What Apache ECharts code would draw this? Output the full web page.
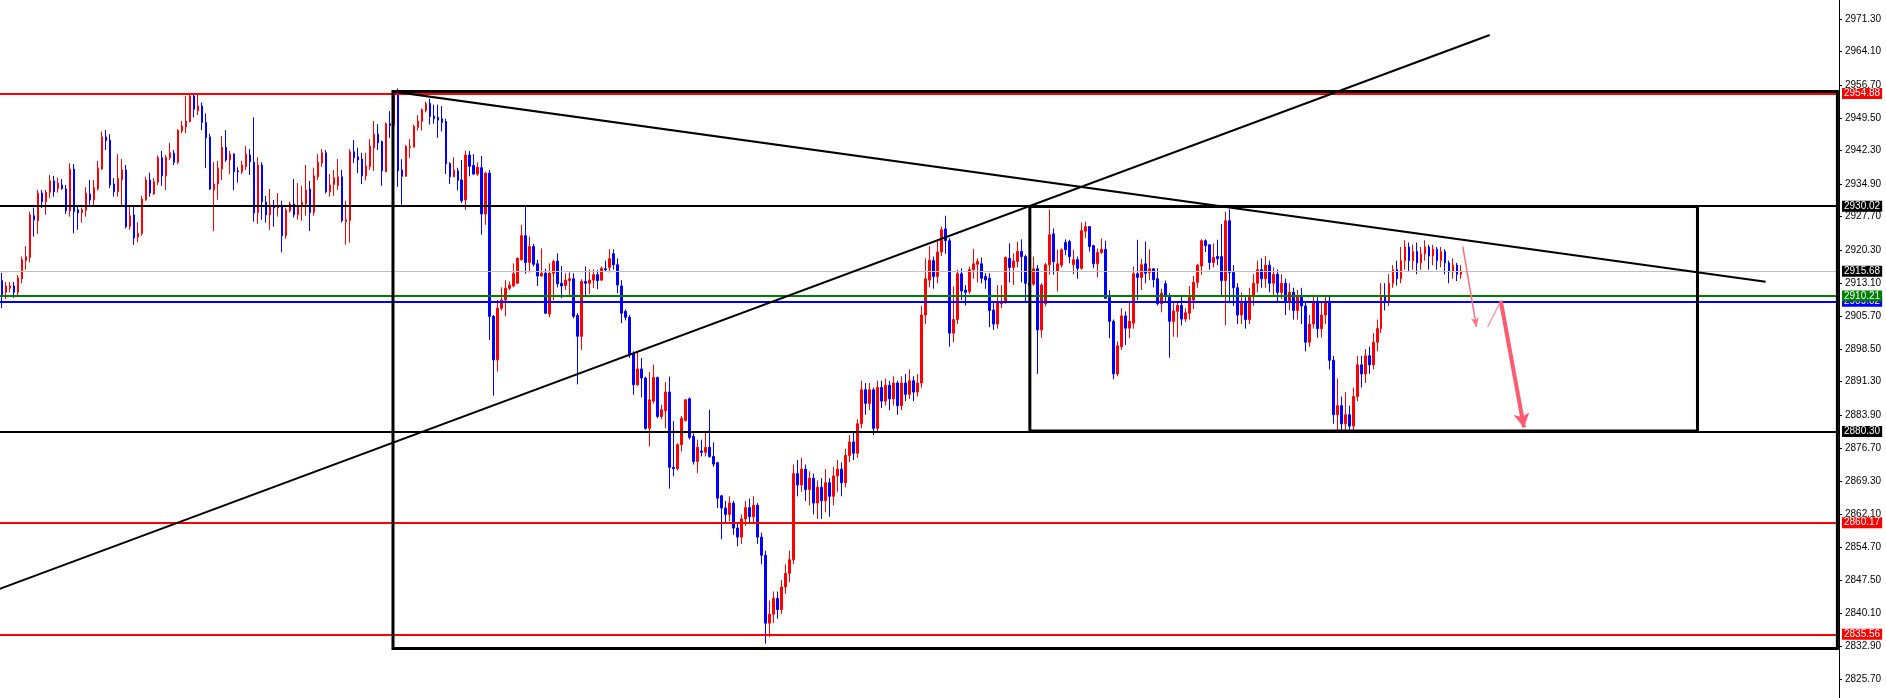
<!DOCTYPE html>
<html><head><meta charset="utf-8">
<style>html,body{margin:0;padding:0;background:#fff}#c{width:1886px;height:698px}</style>
<script src="https://cdn.jsdelivr.net/npm/echarts@6.0.0/dist/echarts.min.js"></script>
</head><body><div id="c"></div>
<script>
// ---------- data ----------
const opens = [
2913.6,2911.0,2911.9,2912.4,2911.0,2914.0,2918.0,2918.7,2927.9,2926.8,
2932.9,2931.0,2933.1,2935.6,2933.9,2934.7,2933.8,2929.0,2938.2,2929.2,
2928.6,2929.1,2932.7,2931.4,2933.8,2938.2,2945.3,2944.6,2934.9,2933.2,
2935.8,2938.0,2925.5,2928.1,2923.2,2924.0,2931.4,2935.8,2932.7,2935.3,
2940.7,2936.7,2940.7,2941.7,2939.7,2946.6,2947.5,2948.7,2954.3,2951.1,
2952.1,2948.5,2945.3,2933.6,2934.9,2938.2,2943.0,2940.2,2941.5,2937.8,
2937.6,2938.7,2941.3,2939.7,2928.6,2939.1,2930.9,2928.1,2930.1,2929.6,
2930.1,2923.5,2929.0,2930.5,2928.1,2929.9,2930.5,2933.8,2928.6,2936.5,
2939.5,2941.8,2933.2,2934.8,2934.6,2936.5,2926.6,2926.8,2942.0,2940.9,
2940.4,2936.7,2938.7,2942.9,2945.9,2944.3,2937.6,2948.2,2947.8,2954.9,
2938.0,2936.6,2943.0,2943.0,2947.4,2948.7,2951.1,2952.7,2949.9,2949.6,
2949.3,2948.7,2939.4,2936.5,2937.8,2935.8,2931.4,2941.3,2939.0,2937.1,
2938.5,2928.3,2937.3,2905.7,2896.1,2907.5,2909.3,2911.9,2912.4,2913.0,
2918.2,2923.5,2917.6,2921.1,2917.3,2914.6,2915.2,2906.2,2915.2,2917.9,
2913.0,2912.5,2913.6,2914.0,2905.9,2901.3,2913.4,2913.0,2913.7,2914.9,
2913.7,2916.2,2916.5,2919.5,2917.1,2912.4,2906.8,2905.5,2897.4,2890.6,
2894.1,2892.1,2881.0,2887.0,2892.2,2883.6,2884.9,2889.0,2872.4,2872.1,
2877.4,2882.7,2887.5,2879.2,2873.7,2876.0,2875.7,2876.8,2874.8,2873.4,
2866.1,2863.4,2862.0,2864.5,2859.0,2857.0,2861.0,2863.5,2861.5,2864.0,
2857.0,2853.0,2838.0,2840.0,2843.5,2841.0,2846.0,2849.0,2852.0,2871.0,
2868.5,2872.0,2867.5,2870.0,2864.5,2868.0,2865.0,2869.0,2866.0,2870.5,
2872.0,2869.0,2875.0,2878.0,2875.5,2882.0,2889.5,2886.5,2889.5,2881.0,
2890.0,2887.0,2890.5,2887.5,2891.0,2886.0,2891.0,2888.5,2891.5,2889.0,
2891.0,2906.0,2913.7,2918.0,2914.5,2919.9,2925.0,2922.4,2902.0,2905.0,
2915.1,2911.5,2911.2,2916.0,2917.2,2917.3,2914.5,2914.1,2907.1,2904.0,
2908.5,2908.8,2918.5,2916.5,2917.8,2920.0,2918.9,2913.0,2912.8,2916.2,
2902.7,2908.5,2917.1,2923.9,2915.7,2917.0,2922.0,2922.2,2917.1,2918.2,
2916.3,2924.5,2925.5,2921.3,2917.3,2919.8,2920.5,2909.9,2904.6,2893.0,
2899.0,2905.8,2903.1,2904.2,2915.1,2914.3,2917.3,2915.4,2916.2,2914.0,
2908.5,2912.9,2910.1,2904.6,2906.8,2908.1,2905.1,2906.4,2909.3,2913.2,
2916.8,2922.4,2921.5,2917.6,2918.9,2918.9,2913.6,2926.8,2915.4,2912.0,
2906,2909,2905,2910,2913,2916,2914,2917,2913,2915,
2911,2913,2909,2911,2907,2910,2908,2900,2904,2909,
2903,2906,2909,2896,2884,2886,2882,2884,2881.5,2888,
2895,2893,2897,2895,2900,2903,2910,2909,2913,2916,
2914,2918,2921,2918,2920,2917.5,2919.5,2921,2919,2920.5,
2918,2920,2917.5,2915.5,2917,2915
];
const closes = [
2910.5,2912.4,2912.4,2911.0,2914.2,2918.2,2918.9,2928.1,2927.0,2932.9,
2931.0,2933.1,2935.6,2933.2,2935.1,2933.9,2929.0,2938.2,2928.8,2928.5,
2929.2,2932.9,2931.4,2934.1,2938.4,2945.3,2944.5,2934.7,2933.2,2936.1,
2938.0,2925.5,2927.9,2923.0,2924.0,2931.6,2935.8,2932.9,2935.4,2940.7,
2936.7,2940.8,2941.8,2939.7,2946.7,2947.7,2948.8,2954.3,2951.4,2952.1,
2948.5,2945.1,2933.8,2934.9,2938.4,2943.0,2940.2,2941.5,2937.6,2937.6,
2939.1,2941.5,2939.8,2928.5,2939.1,2931.0,2928.1,2930.1,2929.6,2930.1,
2923.5,2929.2,2930.5,2928.1,2930.1,2930.9,2933.6,2928.6,2936.7,2939.7,
2941.8,2933.2,2934.7,2936.3,2936.5,2926.8,2927.0,2942.0,2940.7,2940.2,
2936.7,2938.9,2943.3,2945.9,2944.0,2937.8,2948.2,2947.8,2954.5,2937.8,
2936.6,2943.2,2943.2,2947.6,2948.8,2951.3,2952.6,2949.8,2949.3,2949.0,
2948.5,2939.3,2936.5,2938.0,2935.7,2931.2,2941.3,2938.8,2937.1,2938.6,
2928.3,2937.3,2905.7,2896.1,2907.5,2909.3,2911.9,2912.6,2915.1,2918.5,
2923.5,2917.6,2921.1,2917.2,2914.6,2915.2,2906.4,2915.2,2917.8,2912.9,
2912.4,2913.7,2914.0,2905.7,2901.3,2913.4,2913.0,2913.7,2914.9,2913.6,
2916.3,2916.0,2918.4,2917.1,2912.6,2906.4,2905.5,2897.4,2890.6,2894.1,
2892.1,2881.0,2887.3,2892.2,2883.6,2885.1,2889.0,2872.4,2872.1,2877.4,
2883.2,2887.3,2879.0,2873.7,2876.8,2875.7,2876.8,2874.8,2873.1,2865.6,
2863.4,2862.0,2864.5,2859.0,2857.0,2861.0,2863.5,2861.5,2864.0,2857.0,
2853.0,2838.0,2840.0,2843.5,2841.0,2846.0,2849.0,2852.0,2871.0,2868.5,
2872.0,2867.5,2870.0,2864.5,2868.0,2865.0,2869.0,2866.0,2870.5,2872.0,
2869.0,2875.0,2878.0,2875.5,2882.0,2889.5,2886.5,2889.5,2881.0,2890.0,
2887.0,2890.5,2887.5,2891.0,2886.0,2891.0,2888.5,2891.5,2889.0,2891.0,
2906.0,2914.0,2918.1,2914.5,2919.9,2924.8,2922.4,2902.0,2905.0,2915.1,
2911.3,2911.0,2916.0,2917.3,2917.8,2914.1,2913.7,2907.0,2904.0,2908.8,
2909.0,2918.7,2916.5,2917.9,2920.0,2918.9,2913.0,2912.5,2916.2,2902.7,
2912.6,2917.1,2923.7,2917.8,2917.3,2920.4,2920.4,2918.9,2918.2,2916.3,
2924.6,2925.5,2921.1,2917.3,2919.8,2920.5,2909.7,2904.6,2893.0,2899.2,
2905.8,2903.1,2904.6,2915.1,2914.3,2917.1,2915.2,2916.2,2913.8,2908.5,
2910.8,2910.1,2904.6,2906.9,2908.1,2905.1,2906.5,2909.9,2913.2,2917.0,
2922.4,2921.3,2917.6,2918.7,2918.4,2913.6,2926.8,2915.4,2912.0,2906.0,
2909,2905,2910,2913,2916,2914,2917,2913,2915,2911,
2913,2909,2911,2907,2910,2908,2900,2904,2909,2903,
2906,2909,2896,2884,2886,2882,2884,2881.5,2888,2895,
2893,2897,2895,2900,2903,2910,2909,2913,2916,2914,
2918,2921,2918,2920,2917.5,2919.5,2921,2919,2920.5,2918,
2920,2917.5,2915.5,2917,2915,2915.68
];
const lows = [
2907.5,2909.5,2911.0,2909.8,2910.2,2913.0,2916.0,2917.6,2923.3,2923.9,
2929.6,2928.1,2931.8,2932.1,2933.0,2933.6,2928.3,2927.7,2924.0,2924.8,
2926.4,2927.7,2930.3,2930.2,2933.5,2938.0,2942.4,2934.0,2932.1,2932.1,
2930.3,2925.1,2924.8,2921.5,2922.0,2923.5,2931.2,2932.1,2932.5,2934.7,
2934.5,2933.6,2940.2,2939.1,2939.3,2946.1,2946.1,2948.5,2949.6,2950.1,
2946.8,2938.4,2933.6,2924.5,2931.4,2935.8,2939.8,2937.1,2933.5,2935.2,
2937.1,2938.0,2936.9,2926.6,2926.1,2927.0,2926.4,2924.8,2925.5,2927.7,
2919.8,2922.8,2928.6,2927.5,2927.0,2926.8,2927.9,2924.5,2927.9,2935.8,
2938.7,2932.8,2932.1,2932.3,2933.6,2926.4,2921.5,2922.0,2939.5,2937.3,
2934.9,2935.7,2938.0,2937.8,2942.4,2934.5,2937.5,2945.1,2946.5,2934.3,
2930.3,2936.5,2940.7,2943.0,2946.7,2946.7,2950.7,2948.0,2948.2,2945.1,
2946.5,2937.1,2934.9,2936.4,2933.5,2930.7,2929.2,2936.6,2936.9,2936.7,
2923.7,2925.9,2900.5,2888.2,2893.5,2907.0,2905.7,2911.5,2912.1,2912.9,
2918.0,2915.1,2915.4,2916.7,2912.4,2914.5,2906.2,2905.5,2909.3,2912.1,
2909.7,2911.5,2909.9,2905.3,2890.7,2898.3,2909.9,2910.6,2911.9,2911.7,
2913.5,2915.5,2915.4,2916.0,2910.8,2904.2,2904.8,2896.5,2888.4,2890.4,
2887.8,2880.7,2877.0,2886.5,2883.2,2883.0,2881.0,2867.7,2870.4,2871.7,
2875.9,2882.5,2878.5,2873.0,2871.1,2874.8,2874.8,2874.5,2872.5,2863.4,
2856.5,2860.0,2860.5,2857.5,2855.0,2855.5,2859.5,2860.0,2860.0,2855.5,
2851.0,2833.5,2835.0,2838.0,2839.0,2840.0,2844.5,2847.0,2851.0,2866.0,
2867.0,2865.0,2864.0,2862.0,2861.0,2861.0,2862.5,2861.5,2864.0,2867.0,
2866.0,2868.0,2873.5,2874.0,2874.5,2881.0,2884.0,2885.0,2879.5,2880.0,
2885.5,2886.0,2885.0,2886.0,2884.0,2885.0,2887.0,2887.5,2887.0,2888.0,
2890.0,2904.0,2912.1,2911.8,2913.0,2919.0,2919.5,2899.0,2900.0,2904.0,
2909.3,2908.1,2910.6,2914.0,2913.2,2913.0,2911.8,2903.3,2902.7,2903.0,
2907.5,2908.5,2913.2,2912.6,2916.5,2913.2,2908.8,2911.0,2912.5,2893.0,
2901.0,2907.9,2914.9,2914.9,2911.2,2916.5,2919.2,2917.4,2915.0,2914.0,
2916.0,2923.0,2920.0,2916.3,2914.3,2919.5,2909.6,2900.9,2891.8,2892.5,
2898.3,2899.4,2900.9,2903.0,2909.3,2911.5,2913.0,2913.7,2912.1,2908.1,
2906.6,2909.0,2896.6,2901.2,2901.1,2903.7,2904.5,2905.0,2907.3,2912.0,
2914.9,2919.9,2916.0,2916.5,2917.0,2910.1,2903.7,2908.6,2908,2904,
2904,2903,2904,2908,2911,2912,2912,2911,2910,2909,
2909.5,2906,2907,2905,2905,2904,2898,2899,2903,2901,
2901,2904,2894,2882,2880.5,2880.3,2880.3,2880.3,2880.5,2887,
2890,2891,2893,2894,2898,2902,2907,2908,2912,2912.5,
2913,2916,2915.5,2916,2915,2916,2918,2916,2917,2916,
2916.5,2915,2913,2914,2913.5,2914
];
const highs = [
2915.3,2913.3,2913.3,2913.3,2914.8,2918.9,2921.2,2928.8,2929.7,2933.6,
2933.6,2933.6,2936.9,2936.7,2936.3,2936.0,2934.7,2939.5,2939.3,2929.9,
2929.7,2934.2,2935.8,2935.8,2940.0,2946.5,2946.8,2945.9,2936.2,2941.5,
2940.4,2939.1,2930.3,2930.0,2926.5,2932.3,2936.5,2937.4,2936.2,2941.2,
2942.2,2941.3,2944.0,2942.4,2947.0,2948.8,2954.3,2954.8,2954.8,2954.8,
2952.9,2950.5,2946.0,2939.7,2940.0,2945.5,2946.8,2942.2,2941.7,2938.6,
2940.0,2943.3,2942.6,2949.6,2940.8,2939.7,2932.3,2933.8,2931.4,2932.9,
2931.2,2929.7,2931.0,2936.0,2935.1,2934.5,2939.1,2935.6,2938.5,2941.5,
2942.6,2942.4,2937.1,2938.0,2940.4,2938.0,2931.2,2942.6,2944.6,2942.9,
2941.8,2941.8,2944.8,2948.8,2948.1,2944.5,2948.5,2951.0,2955.3,2956.0,
2940.4,2943.5,2944.8,2948.0,2950.1,2951.6,2953.1,2953.7,2952.4,2952.4,
2952.1,2949.3,2939.7,2940.8,2938.5,2940.2,2942.2,2942.2,2941.5,2939.7,
2941.1,2937.6,2938.0,2906.0,2909.3,2912.1,2913.7,2913.4,2917.4,2918.7,
2925.9,2929.9,2923.3,2921.7,2918.2,2920.7,2916.2,2917.4,2918.2,2919.6,
2916.8,2915.2,2915.4,2915.2,2906.4,2913.9,2916.7,2916.1,2916.1,2915.9,
2916.7,2918.0,2920.5,2920.5,2918.5,2913.7,2907.2,2906.0,2898.0,2898.0,
2896.5,2892.4,2893.4,2895.0,2892.4,2886.2,2891.2,2892.4,2882.6,2877.7,
2883.7,2887.4,2887.8,2879.9,2878.5,2878.5,2880.4,2885.1,2877.9,2873.6,
2866.3,2865.0,2866.0,2865.0,2860.0,2862.0,2865.0,2865.5,2866.0,2864.5,
2858.0,2854.0,2843.0,2845.0,2845.0,2847.5,2851.0,2854.0,2873.0,2874.0,
2874.5,2873.0,2871.5,2871.0,2869.5,2870.0,2872.0,2870.0,2872.5,2874.0,
2873.5,2876.5,2879.5,2880.0,2883.0,2891.5,2891.0,2891.0,2890.0,2891.5,
2891.5,2892.0,2891.5,2892.5,2891.5,2892.5,2893.0,2894.0,2892.5,2893.0,
2908.0,2918.5,2921.2,2918.9,2922.6,2925.5,2927.9,2923.0,2912.3,2916.0,
2916.3,2912.6,2916.7,2920.6,2918.5,2918.7,2915.2,2915.2,2908.6,2912.6,
2912.6,2918.9,2921.8,2919.6,2922.2,2922.7,2919.3,2914.0,2918.9,2917.0,
2913.0,2917.5,2929.3,2925.1,2920.4,2920.7,2922.7,2922.6,2920.4,2918.9,
2926.4,2926.6,2925.6,2921.5,2920.7,2922.9,2922.4,2911.5,2905.0,2900.2,
2907.5,2906.8,2909.1,2916.7,2922.6,2918.4,2922.2,2920.5,2916.3,2916.3,
2911.8,2913.6,2910.8,2909.0,2909.0,2910.1,2907.5,2912.4,2914.6,2917.3,
2922.7,2922.7,2921.6,2921.8,2922.6,2926.1,2928.8,2929.3,2917,2913,
2911,2910,2912,2915,2918,2918.5,2919,2918,2916.5,2916,
2915,2914,2913,2912,2911.5,2912,2909,2906,2910.5,2910,
2909,2910,2910,2897,2892,2888,2889,2886,2890,2897,
2897,2898.5,2899,2902,2905,2913,2913,2915,2917,2918,
2921,2922.5,2922,2921.5,2922,2921,2922.5,2921.5,2921.5,2921,
2921,2920.5,2918,2918.5,2917.5,2917
];
const tickLabels = ['2971.30','2964.10','2956.70','2949.50','2942.30','2934.90','2927.70',
  '2920.30','2913.10','2905.70','2898.50','2891.30','2883.90','2876.70','2869.30','2862.10',
  '2854.70','2847.50','2840.10','2832.90','2825.70'];
// horizontal price levels (drawn in order)
const levelValues = [2954.88, 2930.02, 2915.68, 2909.02, 2910.21, 2880.30, 2860.17, 2835.56];
// drawn objects, in [bar index, price]
const descLine = [[97.8, 2955.3], [440.9, 2913.35]];
const ascLine  = [[-0.5, 2845.6], [371.9, 2967.7]];
const bigBox   = [[97.8, 2832.4], [459.1, 2955.3]];
const smallBox = [[257.1, 2880.4], [424.1, 2929.95]];
const arrowThin1 = [[365.4, 2921.1], [368.8, 2903.4]];
const segThin2   = [[371.6, 2903.3], [374.9, 2909.1]];
const arrowThick = [[374.9, 2909.1], [380.7, 2881.2]];

// ---------- styles ----------
const SLOTS = 460;
const levelStyle = {
  2954.88: {c: '#ff0000', w: 2, tag: '#ff0000'},
  2930.02: {c: '#000000', w: 2, tag: '#000000'},
  2915.68: {c: '#c0c0c0', w: 1, tag: '#000000'},
  2909.02: {c: '#0000ff', w: 2, tag: '#0000ff'},
  2910.21: {c: '#008000', w: 2, tag: '#008000'},
  2880.30: {c: '#000000', w: 2, tag: '#000000'},
  2860.17: {c: '#ff0000', w: 2, tag: '#ff0000'},
  2835.56: {c: '#ff0000', w: 2, tag: '#ff0000'}
};
const FONT = 'Liberation Sans, Arial, sans-serif';
const cats = Array.from({length: SLOTS}, (_, i) => String(i));
const candles = opens.map((o, i) => [o, closes[i], Math.min(lows[i], o, closes[i]), Math.max(highs[i], o, closes[i])]);
const tickVals = tickLabels.map(Number);

function boxPts(b) {
  const [[x1, y1], [x2, y2]] = b;
  return [[x1, y1], [x1, y2], [x2, y2], [x2, y1], [x1, y1]];
}
function lineSeries(data, color, width) {
  return {type: 'line', xAxisIndex: 1, yAxisIndex: 0, data, symbol: 'none', silent: true,
    animation: false, lineStyle: {color, width, join: 'miter', cap: 'square'}, z: 5};
}

const chart = echarts.init(document.getElementById('c'), null, {renderer: 'canvas'});
chart.setOption({
  animation: false,
  backgroundColor: '#ffffff',
  grid: {left: -1.5, right: 47, top: 0, bottom: 0, containLabel: false},
  xAxis: [
    {type: 'category', data: cats, show: false, boundaryGap: true},
    {type: 'value', min: -0.5, max: SLOTS - 0.5, show: false}
  ],
  yAxis: [{
    type: 'value', position: 'right', min: 2821.5, max: 2975.5, scale: true,
    splitLine: {show: false},
    axisLine: {show: true, onZero: false, lineStyle: {color: '#000', width: 1}},
    axisTick: {show: true, length: 3, inside: false, lineStyle: {color: '#000'}, customValues: tickVals},
    axisLabel: {show: true, customValues: tickVals, margin: 6, color: '#000', fontSize: 10, fontFamily: FONT,
      formatter: v => v.toFixed(2)}
  }],
  series: [
    {
      type: 'candlestick', xAxisIndex: 0, yAxisIndex: 0, data: candles, barWidth: 2,
      itemStyle: {color: '#ff0000', color0: '#0000ff', borderColor: '#ff0000', borderColor0: '#0000ff', borderWidth: 1},
      z: 2,
      markLine: {
        silent: true, symbol: ['none', 'none'], animation: false,
        data: levelValues.map(v => ({
          yAxis: v,
          lineStyle: {color: levelStyle[v].c, width: levelStyle[v].w, type: 'solid'},
          label: {show: true, position: 'end', distance: 3, formatter: v.toFixed(2), color: '#fff',
            backgroundColor: levelStyle[v].tag, fontSize: 10, fontFamily: FONT, padding: [1, 2, 0, 2], lineHeight: 10}
        }))
      }
    },
    lineSeries(boxPts(bigBox), '#000', 3),
    lineSeries(boxPts(smallBox), '#000', 3),
    lineSeries(ascLine, '#000', 2),
    Object.assign(lineSeries(descLine, '#000', 2), {
      markLine: {
        silent: true, animation: false, label: {show: false},
        data: [
          [{coord: arrowThin1[0], symbol: 'none'}, {coord: arrowThin1[1], symbol: 'arrow', symbolSize: [6, 9],
            lineStyle: {color: '#ff6f7f', width: 1.5, type: 'solid'}}],
          [{coord: segThin2[0], symbol: 'none'}, {coord: segThin2[1], symbol: 'none',
            lineStyle: {color: '#ff9aa6', width: 1.5, type: 'solid'}}],
          [{coord: arrowThick[0], symbol: 'none'}, {coord: arrowThick[1], symbol: 'arrow', symbolSize: [12, 14],
            lineStyle: {color: '#ff5a6e', width: 4, type: 'solid'}}]
        ],
        itemStyle: {color: '#ff5a6e'}
      }
    })
  ]
});
</script></body></html>
